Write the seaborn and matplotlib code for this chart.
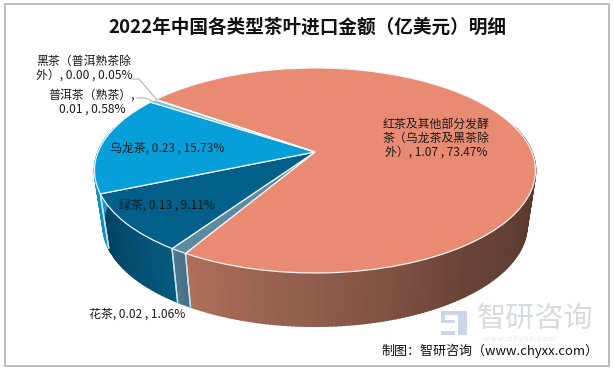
import numpy as np
import matplotlib
matplotlib.use('Agg')
import matplotlib.pyplot as plt
from matplotlib.transforms import Transform
from matplotlib.patches import Rectangle
import seaborn as sns

# data, clockwise from the big slice
names = ['红茶及其他部分发酵\n茶（乌龙茶及黑茶除\n外）', '花茶', '绿茶', '乌龙茶', '普洱茶（熟茶）', '黑茶（普洱熟茶除\n外）']
values = [1.07, 0.02, 0.13, 0.23, 0.01, 0.00]
shares = [73.47, 1.06, 9.11, 15.73, 0.58, 0.05]
seps = [', ', ', ', ', ', ', ', ',\n', ', ']

top_colors = ['#E98B73', '#5C8AA1', '#00608A', '#069FD9', '#6CC6EA', '#2C7FA0']
wall_colors = [['#AE6F5A', '#8C5A4A', '#6A4337', '#5C3A30', '#5C3A30'],
               ['#4F788F', '#4A7087'],
               ['#00405F', '#065A7E'],
               ['#1A9FD0', '#0E8FC0'],
               ['#55B5D8', '#55B5D8'],
               ['#2C7FA0', '#2C7FA0']]

label_x = [436, 137, 167, 167, 92, 84]
label_y = [138, 314, 205, 148, 102, 68]

# where the pie sits in the picture (pixels)
cx, hub_y = 315, 152
k, A, a = 0.18, 99.2, 216.9
start_angle = 144.2


class Tilt(Transform):
    input_dims = output_dims = 2

    def transform_non_affine(self, xy):
        xy = np.asarray(xy)
        w = 1 + k * xy[:, 1]
        return np.column_stack([cx + a * xy[:, 0] / w, hub_y - A * xy[:, 1] / w])


def bottom_rim(theta):
    u, v = np.cos(np.radians(theta)), np.sin(np.radians(theta))
    w = 1 + k * v
    return cx + 0.961 * a * u / w, 207 - 0.985 * A * v / w


def top_rim(theta):
    u, v = np.cos(np.radians(theta)), np.sin(np.radians(theta))
    w = 1 + k * v
    return cx + a * u / w, hub_y - A * v / w


sns.set_theme(style='white')
plt.rcParams['font.family'] = ['Noto Sans CJK SC', 'DejaVu Sans']

fig = plt.figure(figsize=(6.14, 3.70), dpi=100)
ax = fig.add_axes([0, 0, 1, 1])

wedges, _ = ax.pie(shares, startangle=start_angle, counterclock=False, colors=top_colors,
                   wedgeprops=dict(edgecolor='#F4F4F4', linewidth=0.9, zorder=3))
tilt = Tilt()
for w in wedges:
    w.set_transform(tilt + ax.transData)

# side wall, only the part facing us
for w, shades in zip(wedges, wall_colors):
    lo, hi = w.theta1, w.theta2
    # bring to the -195..15 window used for the front of the pie
    if lo > 15:
        lo, hi = lo - 360, hi - 360
    lo, hi = max(lo, -195), min(hi, 15)
    if hi <= lo:
        continue
    steps = max(int(hi - lo), 2)
    edges = np.linspace(lo, hi, steps + 1)
    pal = sns.blend_palette(shades, steps)
    for i in range(steps):
        th = edges[i:i + 2]
        xt, yt = top_rim(th)
        xb, yb = bottom_rim(th)
        ax.fill(np.r_[xt, xb[::-1]], np.r_[yt, yb[::-1]], color=pal[i], lw=1.2, zorder=1)
    for th in (lo, hi):
        if -190 < th < 10:
            xt, yt = top_rim(np.array([th]))
            xb, yb = bottom_rim(np.array([th]))
            ax.plot([xt[0], xb[0]], [yt[0], yb[0]], color='#CFE3EE', lw=1, zorder=2)

ax.set_aspect('auto')
ax.set(xlim=(0, 614), ylim=(370, 0))
ax.axis('off')

# outer frame
ax.add_patch(Rectangle((4.5, 3.5), 604.5, 362.5, fill=False, ec='#B2B2B2', lw=1.2, zorder=0))

ax.text(307, 27, '2022年中国各类型茶叶进口金额（亿美元）明细', fontsize=13.4, fontweight='bold',
        ha='center', va='center', color='#111111')

for name, val, sh, sep, x, y in zip(names, values, shares, seps, label_x, label_y):
    ax.text(x, y, f'{name}{sep}{val:.2f} , {sh:.2f}%', fontsize=8.6, ha='center', va='center',
            color='#1A1A1A', linespacing=1.1, zorder=5)

# leader lines
ax.plot([132, 139, 157], [79, 79, 100], color='#B5B5B5', lw=0.8, zorder=4)
ax.plot([137, 145, 154], [98, 98, 102], color='#B5B5B5', lw=0.8, zorder=4)

# watermark
for box in [(441, 311, 26, 4), (441, 311, 4, 12), (441, 320, 14, 3), (458, 311, 9, 24), (441, 331, 14, 4)]:
    ax.add_patch(Rectangle(box[:2], box[2], box[3], color='#CBD7E8', lw=0, zorder=1))
ax.text(535, 319, '智研咨询', fontsize=21, ha='center', va='center', color='#D6DBDF', zorder=1)
ax.text(520, 339, 'w w w . c h y x x . c o m', fontsize=5, ha='center', va='center', color='#E2E6EA', zorder=1)

ax.text(490, 351, '制图：智研咨询（www.chyxx.com）', fontsize=9.4, ha='center', va='center',
        color='#111111', zorder=5)

fig.savefig('out.png', dpi=100)
